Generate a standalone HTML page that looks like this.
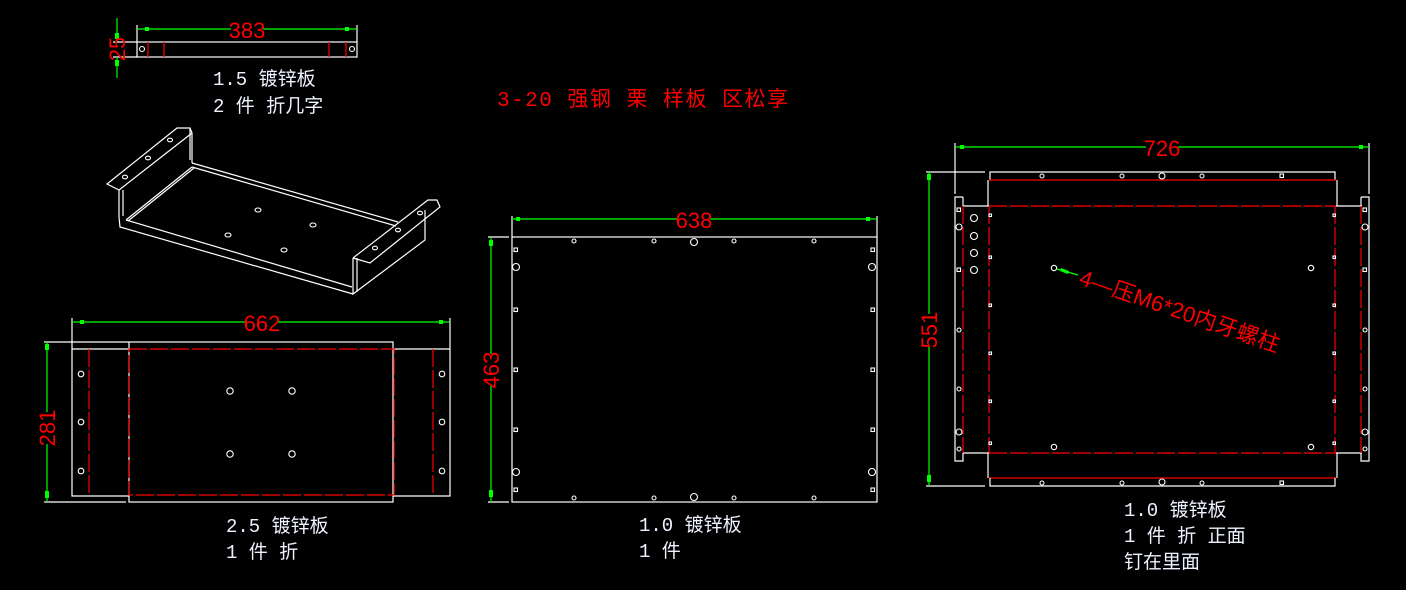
<!DOCTYPE html>
<html><head><meta charset="utf-8"><style>
html,body{margin:0;padding:0;background:#000;width:1406px;height:590px;overflow:hidden}
svg{display:block}
.w{stroke:#fff;fill:none;stroke-width:1.2}
.r{stroke:#f00;fill:none;stroke-width:1.2}
.rd{stroke:#f00;fill:none;stroke-width:1.2;stroke-dasharray:18 3}
.g{stroke:#0f0;fill:none;stroke-width:1.2}
.h{stroke:#fff;fill:none;stroke-width:1.1}
.dim{fill:#f00;font-family:"Liberation Sans Narrow","Liberation Sans",sans-serif;font-size:22px}
.lbl{fill:#eef2ff;font-family:"Liberation Mono","Noto Sans CJK SC",monospace;font-size:19px}
.ttl{fill:#f00;font-family:"Liberation Mono","Noto Sans CJK SC",monospace;font-size:21px}
</style></head><body>
<svg width="1406" height="590" viewBox="0 0 1406 590" xmlns="http://www.w3.org/2000/svg">
<!-- Top small part -->
<rect class="w" x="137" y="42" width="220" height="15"/>
<line class="r" x1="148" y1="42" x2="148" y2="57"/><line class="r" x1="164" y1="42" x2="164" y2="57"/>
<line class="r" x1="329" y1="42" x2="329" y2="57"/><line class="r" x1="346" y1="42" x2="346" y2="57"/>
<circle class="h" cx="142" cy="49" r="2.5"/><circle class="h" cx="352" cy="49" r="2.5"/>
<line class="w" x1="137" y1="25" x2="137" y2="42"/><line class="w" x1="357" y1="25" x2="357" y2="42"/>
<line class="g" x1="137" y1="29" x2="357" y2="29"/>
<rect x="145" y="27" width="4" height="4" fill="#0f0"/><rect x="345" y="27" width="4" height="4" fill="#0f0"/>
<rect x="231" y="20" width="32" height="18" fill="#000"/>
<text class="dim" x="247" y="38" text-anchor="middle">383</text>
<line class="w" x1="113" y1="42" x2="137" y2="42"/><line class="w" x1="113" y1="57" x2="137" y2="57"/>
<line class="g" x1="117" y1="18" x2="117" y2="42"/><line class="g" x1="117" y1="57" x2="117" y2="78"/>
<rect x="115" y="33" width="4" height="6" fill="#0f0"/><rect x="115" y="60" width="4" height="6" fill="#0f0"/>
<text class="dim" transform="translate(125,49) rotate(-90)" text-anchor="middle" font-size="19">25</text>
<text class="lbl" x="213" y="85">1.5 镀锌板</text>
<text class="lbl" x="213" y="112">2 件 折几字</text>
<text class="ttl" x="497" y="106" textLength="291">3-20 强钢 栗 样板 区松享</text>

<!-- 3D bracket -->
<polyline class="w" points="119,190 107,184 177,128 190,128 192,133 119,190"/>
<polyline class="w" points="119,190 119,217 120,227 353,294"/>
<polyline class="w" points="123,190 123,216"/>
<line class="w" x1="192" y1="133" x2="192" y2="163"/>
<line class="w" x1="190" y1="128" x2="190" y2="160"/>
<polyline class="w" points="192,163 398,222"/>
<polyline class="w" points="192,167 396,226"/>
<polyline class="w" points="126,220 192,167"/>
<polyline class="w" points="128,221 194,168"/>
<polyline class="w" points="126,220 352,287"/>
<polyline class="w" points="353,258 353,294 425,240 425,210"/>
<polyline class="w" points="357,258 357,292"/>
<polyline class="w" points="353,258 370,263 440,207 437,200 428,200 353,258"/>
<g class="h">
<ellipse cx="170" cy="140" rx="2.5" ry="1.8"/><ellipse cx="148" cy="158" rx="2.5" ry="1.8"/><ellipse cx="125" cy="177" rx="2.5" ry="1.8"/>
<ellipse cx="420" cy="213" rx="2.5" ry="1.8"/><ellipse cx="398" cy="230" rx="2.5" ry="1.8"/><ellipse cx="375" cy="248" rx="2.5" ry="1.8"/>
<ellipse cx="258" cy="210" rx="3" ry="2"/><ellipse cx="313" cy="225" rx="3" ry="2"/><ellipse cx="228" cy="235" rx="3" ry="2"/><ellipse cx="284" cy="250" rx="3" ry="2"/>
</g>

<!-- Bottom-left part -->
<polyline class="w" points="129,349 72,349 72,496 129,496"/>
<rect class="w" x="129" y="342" width="264" height="160"/>
<polyline class="w" points="393,349 450,349 450,496 393,496"/>
<line class="rd" x1="89" y1="349" x2="89" y2="496"/>
<line class="rd" x1="433" y1="349" x2="433" y2="496"/>
<rect class="rd" x="129" y="349" width="265" height="146"/>
<g class="h">
<circle cx="81" cy="374" r="2.8"/><circle cx="81" cy="422" r="2.8"/><circle cx="81" cy="471" r="2.8"/>
<circle cx="442" cy="374" r="2.8"/><circle cx="442" cy="422" r="2.8"/><circle cx="442" cy="471" r="2.8"/>
<circle cx="230" cy="391" r="3.2"/><circle cx="292" cy="391" r="3.2"/><circle cx="230" cy="454" r="3.2"/><circle cx="292" cy="454" r="3.2"/>
</g>
<line class="w" x1="72" y1="318" x2="72" y2="349"/><line class="w" x1="450" y1="318" x2="450" y2="349"/>
<line class="g" x1="72" y1="322" x2="450" y2="322"/>
<rect x="80" y="320" width="4" height="4" fill="#0f0"/><rect x="439" y="320" width="4" height="4" fill="#0f0"/>
<rect x="246" y="313" width="32" height="18" fill="#000"/>
<text class="dim" x="262" y="331" text-anchor="middle">662</text>
<line class="w" x1="44" y1="342" x2="129" y2="342"/><line class="w" x1="44" y1="502" x2="126" y2="502"/>
<line class="g" x1="47" y1="342" x2="47" y2="502"/>
<rect x="45" y="344" width="4" height="6" fill="#0f0"/><rect x="45" y="491" width="4" height="7" fill="#0f0"/>
<rect x="38" y="412" width="18" height="32" fill="#000"/>
<text class="dim" transform="translate(55,428) rotate(-90)" text-anchor="middle">281</text>
<text class="lbl" x="226" y="532">2.5 镀锌板</text>
<text class="lbl" x="226" y="558">1 件 折</text>

<!-- Middle part -->
<rect class="w" x="512" y="237" width="365" height="265"/>
<line class="w" x1="512" y1="216" x2="512" y2="237"/><line class="w" x1="877" y1="216" x2="877" y2="237"/>
<line class="g" x1="512" y1="219" x2="877" y2="219"/>
<rect x="516" y="217" width="4" height="4" fill="#0f0"/><rect x="866" y="217" width="4" height="4" fill="#0f0"/>
<rect x="678" y="210" width="32" height="18" fill="#000"/>
<text class="dim" x="694" y="228" text-anchor="middle">638</text>
<line class="w" x1="488" y1="237" x2="509" y2="237"/><line class="w" x1="488" y1="502" x2="509" y2="502"/>
<line class="g" x1="491" y1="237" x2="491" y2="502"/>
<rect x="489" y="240" width="4" height="6" fill="#0f0"/><rect x="489" y="490" width="4" height="7" fill="#0f0"/>
<rect x="482" y="354" width="18" height="32" fill="#000"/>
<text class="dim" transform="translate(499,370) rotate(-90)" text-anchor="middle">463</text>
<g class="h">
<circle cx="574" cy="241" r="2"/><circle cx="654" cy="241" r="2"/><circle cx="694" cy="242" r="3.5"/><circle cx="734" cy="241" r="2"/><circle cx="814" cy="241" r="2"/>
<circle cx="574" cy="498" r="2"/><circle cx="654" cy="498" r="2"/><circle cx="694" cy="497" r="3.5"/><circle cx="734" cy="498" r="2"/><circle cx="814" cy="498" r="2"/>
<rect x="514" y="248" width="3.5" height="3.5"/><circle cx="516" cy="267" r="3.5"/><rect x="514" y="308" width="3.5" height="3.5"/><rect x="514" y="368" width="3.5" height="3.5"/><rect x="514" y="428" width="3.5" height="3.5"/><circle cx="516" cy="472" r="3.5"/><rect x="514" y="488" width="3.5" height="3.5"/>
<rect x="871" y="248" width="3.5" height="3.5"/><circle cx="872" cy="267" r="3.5"/><rect x="871" y="308" width="3.5" height="3.5"/><rect x="871" y="368" width="3.5" height="3.5"/><rect x="871" y="428" width="3.5" height="3.5"/><circle cx="872" cy="472" r="3.5"/><rect x="871" y="488" width="3.5" height="3.5"/>
</g>
<text class="lbl" x="639" y="531">1.0 镀锌板</text>
<text class="lbl" x="639" y="557">1 件</text>

<!-- Right part -->
<polyline class="w" points="990,180 990,172 1335,172 1335,180"/>
<line class="r" x1="989" y1="180" x2="1336" y2="180"/>
<line class="w" x1="988" y1="180" x2="988" y2="206"/><line class="w" x1="1337" y1="180" x2="1337" y2="206"/>
<line class="rd" x1="989" y1="206" x2="1336" y2="206"/>
<line class="w" x1="963" y1="206" x2="989" y2="206"/><line class="w" x1="1336" y1="206" x2="1362" y2="206"/>
<line class="rd" x1="989" y1="206" x2="989" y2="453"/><line class="rd" x1="1335" y1="206" x2="1335" y2="453"/>
<line class="rd" x1="989" y1="453" x2="1336" y2="453"/>
<line class="w" x1="963" y1="453" x2="989" y2="453"/><line class="w" x1="1336" y1="453" x2="1362" y2="453"/>
<line class="w" x1="988" y1="453" x2="988" y2="478"/><line class="w" x1="1337" y1="453" x2="1337" y2="478"/>
<line class="r" x1="989" y1="478" x2="1336" y2="478"/>
<polyline class="w" points="990,478 990,486 1335,486 1335,478"/>
<polyline class="w" points="963,197 955,197 955,461 963,461 963,453"/>
<line class="w" x1="963" y1="197" x2="963" y2="206"/>
<line class="rd" x1="963" y1="206" x2="963" y2="453"/>
<polyline class="w" points="1361,197 1369,197 1369,461 1361,461 1361,453"/>
<line class="w" x1="1361" y1="197" x2="1361" y2="206"/>
<line class="rd" x1="1361" y1="206" x2="1361" y2="453"/>
<line class="w" x1="955" y1="143" x2="955" y2="194"/><line class="w" x1="1369" y1="143" x2="1369" y2="194"/>
<line class="g" x1="955" y1="147" x2="1369" y2="147"/>
<rect x="960" y="145" width="4" height="4" fill="#0f0"/><rect x="1359" y="145" width="4" height="4" fill="#0f0"/>
<rect x="1146" y="138" width="32" height="18" fill="#000"/>
<text class="dim" x="1162" y="156" text-anchor="middle">726</text>
<line class="w" x1="926" y1="172" x2="985" y2="172"/><line class="w" x1="926" y1="486" x2="985" y2="486"/>
<line class="g" x1="929" y1="172" x2="929" y2="486"/>
<rect x="927" y="174" width="4" height="6" fill="#0f0"/><rect x="927" y="475" width="4" height="7" fill="#0f0"/>
<rect x="920" y="314" width="18" height="32" fill="#000"/>
<text class="dim" transform="translate(937,330) rotate(-90)" text-anchor="middle">551</text>
<g class="h">
<circle cx="1042" cy="176" r="2"/><circle cx="1122" cy="176" r="2"/><circle cx="1162" cy="176" r="3"/><circle cx="1202" cy="176" r="2"/><rect x="1280" y="174" width="3.5" height="3.5"/>
<circle cx="1042" cy="483" r="2"/><circle cx="1122" cy="483" r="2"/><circle cx="1162" cy="482" r="3"/><circle cx="1202" cy="483" r="2"/><rect x="1280" y="481" width="3.5" height="3.5"/>
<rect x="957" y="208" width="3.5" height="3.5"/><circle cx="959" cy="227" r="3"/><rect x="957" y="268" width="3.5" height="3.5"/><circle cx="959" cy="330" r="2"/><circle cx="959" cy="389" r="2"/><circle cx="959" cy="432" r="3"/><circle cx="959" cy="449" r="2"/>
<rect x="1363" y="208" width="3.5" height="3.5"/><circle cx="1365" cy="227" r="3"/><rect x="1363" y="268" width="3.5" height="3.5"/><circle cx="1365" cy="330" r="2"/><circle cx="1365" cy="389" r="2"/><circle cx="1365" cy="432" r="3"/><circle cx="1365" cy="449" r="2"/>
<circle cx="974" cy="218" r="3.5"/><circle cx="974" cy="236" r="3.5"/><circle cx="974" cy="253" r="3.5"/><circle cx="974" cy="270" r="3.5"/>
<rect x="989" y="214" width="2.5" height="2.5"/><rect x="989" y="256" width="2.5" height="2.5"/><rect x="989" y="304" width="2.5" height="2.5"/><rect x="989" y="352" width="2.5" height="2.5"/><rect x="989" y="400" width="2.5" height="2.5"/><rect x="989" y="442" width="2.5" height="2.5"/>
<rect x="1333" y="214" width="2.5" height="2.5"/><rect x="1333" y="256" width="2.5" height="2.5"/><rect x="1333" y="304" width="2.5" height="2.5"/><rect x="1333" y="352" width="2.5" height="2.5"/><rect x="1333" y="400" width="2.5" height="2.5"/><rect x="1333" y="442" width="2.5" height="2.5"/>
<circle cx="1054" cy="268" r="2.7"/><circle cx="1311" cy="268" r="2.7"/><circle cx="1054" cy="447" r="2.7"/><circle cx="1311" cy="447" r="2.7"/>
</g>
<line class="g" x1="1057" y1="269" x2="1078" y2="275"/>
<polygon points="1061,268 1069,271 1068,274 1060,271" fill="#0f0"/>
<text fill="#f00" transform="translate(1078,284) rotate(19)" font-family="Liberation Sans,'Noto Sans CJK SC',sans-serif" font-size="22" textLength="210">4—压M6*20内牙螺柱</text>
<text class="lbl" x="1124" y="516">1.0 镀锌板</text>
<text class="lbl" x="1124" y="542">1 件 折 正面</text>
<text class="lbl" x="1124" y="568">钉在里面</text>
</svg>
</body></html>
